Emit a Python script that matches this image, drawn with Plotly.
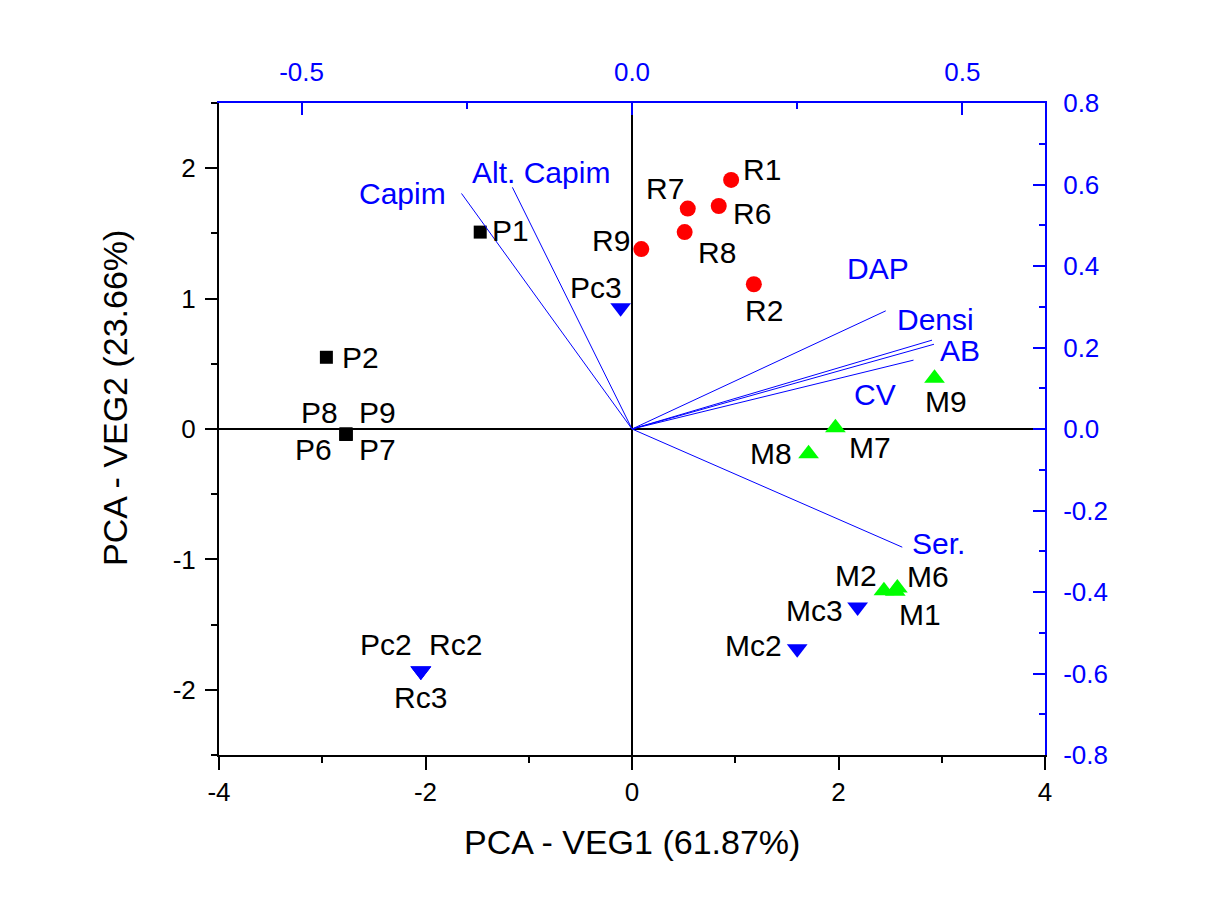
import plotly.graph_objects as go

# ---------------- data ----------------
# scores (bottom / left axes)
P_names = ["P1", "P2", "P6", "P7", "P8", "P9"]
P_x = [-1.47, -2.96, -2.77, -2.77, -2.77, -2.77]
P_y = [1.51, 0.55, -0.04, -0.04, -0.04, -0.04]

R_names = ["R1", "R2", "R6", "R7", "R8", "R9"]
R_x = [0.96, 1.18, 0.84, 0.54, 0.51, 0.09]
R_y = [1.91, 1.11, 1.71, 1.69, 1.51, 1.38]

M_names = ["M1", "M2", "M6", "M7", "M8", "M9"]
M_x = [2.55, 2.44, 2.57, 1.97, 1.71, 2.93]
M_y = [-1.245, -1.24, -1.22, 0.01, -0.19, 0.39]

C_names = ["Pc2", "Rc2", "Rc3", "Pc3", "Mc2", "Mc3"]
C_x = [-2.045, -2.045, -2.045, -0.11, 1.60, 2.185]
C_y = [-1.855, -1.855, -1.855, 0.93, -1.685, -1.365]

# loadings (top / right axes)
L_names = ["Capim", "Alt. Capim", "DAP", "Densi", "AB", "CV", "Ser."]
L_x = [-0.258, -0.181, 0.384, 0.454, 0.457, 0.426, 0.409]
L_y = [0.578, 0.593, 0.290, 0.218, 0.208, 0.169, -0.290]

# tick labels
x1_ticks = [-4, -2, 0, 2, 4]
x1_text = ["-4", "-2", "0", "2", "4"]
y1_ticks = [-2, -1, 0, 1, 2]
y1_text = ["-2", "-1", "0", "1", "2"]
x2_ticks = [-0.5, 0.0, 0.5]
x2_text = ["-0.5", "0.0", "0.5"]
y2_ticks = [-0.8, -0.6, -0.4, -0.2, 0.0, 0.2, 0.4, 0.6, 0.8]
y2_text = ["-0.8", "-0.6", "-0.4", "-0.2", "0.0", "0.2", "0.4", "0.6", "0.8"]

# ---------------- label offsets (pixels) ----------------
label_shift = {
    "P1": (30, 2), "P2": (34, 0), "P8": (-27, 22), "P9": (31, 22),
    "P6": (-33, -15), "P7": (31, -15),
    "R1": (31, 10), "R2": (10, -26), "R6": (33, -7), "R7": (-23, 20),
    "R8": (32, -20), "R9": (-30, 9),
    "M1": (25, -23), "M2": (-28, 15), "M6": (31, 12), "M7": (35, -20),
    "M8": (-38, 0), "M9": (11, -23),
    "Pc2": (-35, 26), "Rc2": (35, 26), "Rc3": (0, -27), "Pc3": (-25, 20),
    "Mc2": (-44, 3), "Mc3": (-43, -3),
    "Capim": (-59, 0), "Alt. Capim": (29, 15), "DAP": (-8, 42),
    "Densi": (3, 21), "AB": (26, -6), "CV": (-39, -34), "Ser.": (36, 4),
}

FONT = "Arial, Liberation Sans, sans-serif"
BLUE = "#0000FF"
LBL = 30

fig = go.Figure()

groups = [
    (P_x, P_y, "square", 13, "#000000"),
    (R_x, R_y, "circle", 16, "#FF0000"),
    (M_x, M_y, "triangle-up", 18, "#00FF00"),
    (C_x, C_y, "triangle-down", 18, BLUE),
]
for gx, gy, sym, sz, col in groups:
    fig.add_trace(go.Scatter(
        x=gx, y=gy, mode="markers", xaxis="x", yaxis="y",
        marker=dict(symbol=sym, size=sz, color=col, line=dict(width=0)),
        showlegend=False, hoverinfo="skip"))

# loading vectors
lx, ly = [], []
for a, b in zip(L_x, L_y):
    lx += [0, a, None]
    ly += [0, b, None]
fig.add_trace(go.Scatter(
    x=lx, y=ly, mode="lines", xaxis="x2", yaxis="y2",
    line=dict(color=BLUE, width=1), showlegend=False, hoverinfo="skip"))

annotations = []
for names, xs, ys in [(P_names, P_x, P_y), (R_names, R_x, R_y),
                      (M_names, M_x, M_y), (C_names, C_x, C_y)]:
    for n, a, b in zip(names, xs, ys):
        dx, dy = label_shift[n]
        annotations.append(dict(
            x=a, y=b, xref="x", yref="y", text=n, showarrow=False,
            xanchor="center", yanchor="middle",
            xshift=dx, yshift=dy, font=dict(family=FONT, size=LBL, color="#000000")))
for n, a, b in zip(L_names, L_x, L_y):
    dx, dy = label_shift[n]
    annotations.append(dict(
        x=a, y=b, xref="x2", yref="y2", text=n, showarrow=False,
        xanchor="center", yanchor="middle",
        xshift=dx, yshift=dy, font=dict(family=FONT, size=LBL, color=BLUE)))

# axis titles
annotations.append(dict(
    x=0.5006, y=-0.1334, xref="paper", yref="paper", text="PCA - VEG1 (61.87%)",
    xanchor="center", yanchor="middle",
    showarrow=False, font=dict(family=FONT, size=34, color="#000000")))
annotations.append(dict(
    x=-0.1260, y=0.5475, xref="paper", yref="paper", text="PCA - VEG2 (23.66%)",
    xanchor="center", yanchor="middle",
    textangle=-90, showarrow=False, font=dict(family=FONT, size=34, color="#000000")))

tickfont_k = dict(family=FONT, size=26, color="#000000")
tickfont_b = dict(family=FONT, size=26, color=BLUE)

fig.update_layout(
    width=1209, height=899,
    margin=dict(l=219, r=164, t=103, b=144),
    paper_bgcolor="white", plot_bgcolor="white",
    annotations=annotations,
    xaxis=dict(
        range=[-4, 4], showgrid=False, zeroline=True, zerolinecolor="#000000",
        zerolinewidth=2, showline=True, linecolor="#000000", linewidth=2,
        ticks="outside", ticklen=13, tickwidth=2, tickcolor="#000000",
        tickvals=x1_ticks, ticktext=x1_text, tickfont=tickfont_k,
        ticklabelstandoff=0,
        minor=dict(ticks="outside", ticklen=6, tickwidth=2, tickcolor="#000000",
                   tickvals=[-3, -1, 1, 3], showgrid=False)),
    yaxis=dict(
        range=[-2.5, 2.5], showgrid=False, zeroline=True, zerolinecolor="#000000",
        zerolinewidth=2, showline=True, linecolor="#000000", linewidth=2,
        ticks="outside", ticklen=12, tickwidth=2, tickcolor="#000000",
        tickvals=y1_ticks, ticktext=y1_text, tickfont=tickfont_k,
        ticklabelstandoff=4,
        minor=dict(ticks="outside", ticklen=6, tickwidth=2, tickcolor="#000000",
                   tickvals=[-2.5, -1.5, -0.5, 0.5, 1.5, 2.5], showgrid=False)),
    xaxis2=dict(
        overlaying="x", side="top", range=[-0.625, 0.625], showgrid=False,
        zeroline=False, showline=True, linecolor=BLUE, linewidth=2,
        ticks="inside", ticklen=12, tickwidth=2, tickcolor=BLUE,
        tickvals=x2_ticks, ticktext=x2_text, tickfont=tickfont_b,
        ticklabelstandoff=10,
        minor=dict(ticks="inside", ticklen=6, tickwidth=2, tickcolor=BLUE,
                   tickvals=[-0.25, 0.25], showgrid=False)),
    yaxis2=dict(
        overlaying="y", side="right", range=[-0.8, 0.8], showgrid=False,
        zeroline=False, showline=True, linecolor=BLUE, linewidth=2,
        ticks="inside", ticklen=12, tickwidth=2, tickcolor=BLUE,
        tickvals=y2_ticks, ticktext=y2_text, tickfont=tickfont_b,
        ticklabelstandoff=11,
        minor=dict(ticks="inside", ticklen=6, tickwidth=2, tickcolor=BLUE,
                   tickvals=[-0.7, -0.5, -0.3, -0.1, 0.1, 0.3, 0.5, 0.7], showgrid=False)),
)

fig.write_html("out.html")
